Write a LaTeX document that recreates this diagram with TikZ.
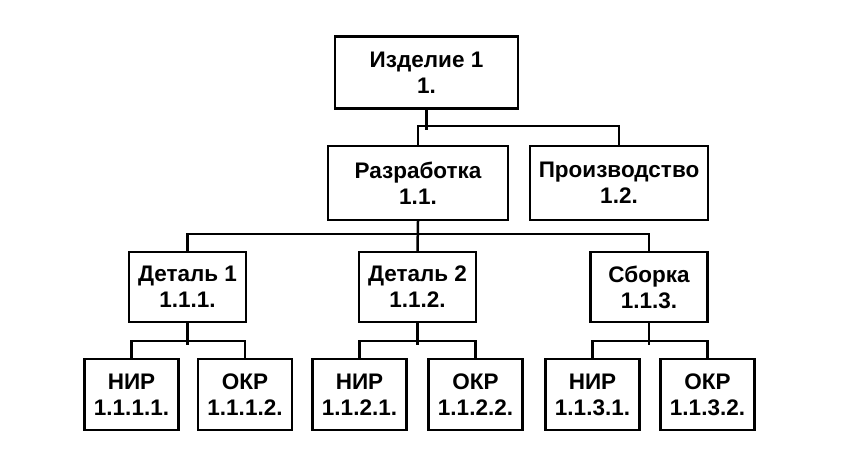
\documentclass[tikz,border=0pt]{standalone}
\usepackage{fontspec}
\setmainfont{Liberation Sans}

\tikzstyle{topblock}  = [rectangle, draw=black, line width=2.5pt, align=center, inner sep=0pt, font=\bfseries\fontsize{22.5}{26}\selectfont]
\tikzstyle{bigblock}  = [topblock, minimum width=180pt, minimum height=72pt]
\tikzstyle{midblock}  = [topblock, minimum width=117pt, minimum height=70pt]
\tikzstyle{leafblock} = [topblock, minimum width=94pt, minimum height=71pt]
\tikzstyle{link}      = [line width=2.5pt, draw=black, line cap=rect]

\begin{document}
\begin{tikzpicture}[x=1pt, y=-1pt]
        \useasboundingbox (0,0) rectangle (843,475);
        \node (izd)     [bigblock, minimum width=183pt] at (426.5,72.5) {Изделие 1\\1.};
        \node (razr)    [bigblock, minimum height=74pt] at (418,183)    {Разработка\\1.1.};
        \node (proizv)  [bigblock, minimum height=74pt, minimum width=178pt] at (619,183) {Производство\\1.2.};
        \node (det1)    [midblock] at (187.5,287)   {Деталь 1\\1.1.1.};
        \node (det2)    [midblock] at (417.5,287)   {Деталь 2\\1.1.2.};
        \node (sborka)  [midblock] at (649,287)     {Сборка\\1.1.3.};
        \node (nir1)    [leafblock] at (131.5,394.5) {НИР\\1.1.1.1.};
        \node (okr1)    [leafblock] at (245,394.5)   {ОКР\\1.1.1.2.};
        \node (nir2)    [leafblock] at (359.5,394.5) {НИР\\1.1.2.1.};
        \node (okr2)    [leafblock] at (475.5,394.5) {ОКР\\1.1.2.2.};
        \node (nir3)    [leafblock] at (592.5,394.5) {НИР\\1.1.3.1.};
        \node (okr3)    [leafblock] at (707.5,394.5) {ОКР\\1.1.3.2.};
        \draw[link] (izd.south)    -- ++(0,19);
        \draw[link] (razr.north)   -- ++(0,-19) -| (proizv.north);
        \draw[link] (razr.south)   -- (det2.north);
        \draw[link] (det1.north)   -- ++(0,-17) -| (sborka.north);
        \draw[link] (det1.south)   -- ++(0,20);
        \draw[link] (nir1.north)   -- ++(0,-17) -| (okr1.north);
        \draw[link] (det2.south)   -- ++(0,20);
        \draw[link] (nir2.north)   -- ++(0,-17) -| (okr2.north);
        \draw[link] (sborka.south) -- ++(0,20);
        \draw[link] (nir3.north)   -- ++(0,-17) -| (okr3.north);
    \end{tikzpicture}
\end{document}
